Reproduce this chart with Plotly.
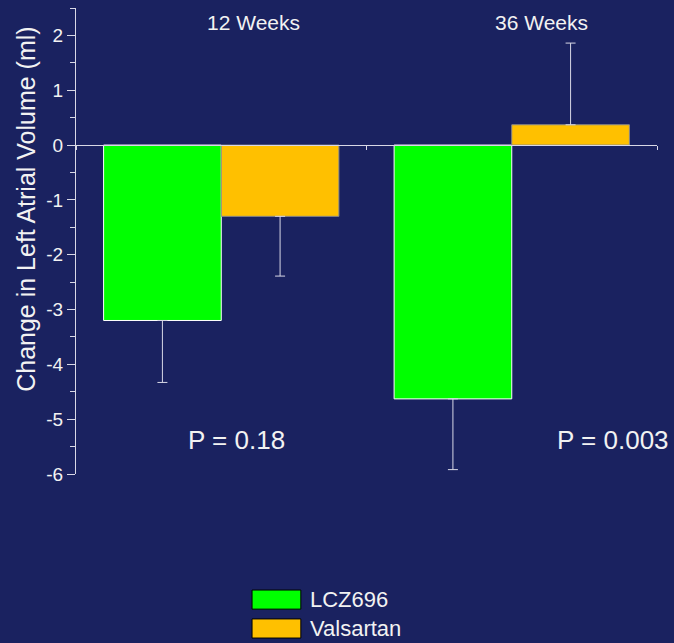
import plotly.graph_objects as go

# ---- data ----
timepoints = ["12 Weeks", "36 Weeks"]
lcz696_change = [-3.2, -4.63]
lcz696_err_minus = [1.13, 1.29]
lcz696_err_plus = [0.0, 0.0]
valsartan_change = [-1.3, 0.37]
valsartan_err_minus = [1.09, 0.0]
valsartan_err_plus = [0.0, 1.49]
p_values = ["P = 0.18", "P = 0.003"]
series_names = ["LCZ696", "Valsartan"]
y_ticks = [-6, -5, -4, -3, -2, -1, 0, 1, 2]
y_tick_labels = ["-6", "-5", "-4", "-3", "-2", "-1", "0", "1", "2"]
y_title = "Change in Left Atrial Volume (ml)"

BG = "#1a2260"
FG = "#f2f2f2"
AX = "#d8d8e6"
FONT = "Liberation Sans, Arial, sans-serif"
GREEN = "#00ff00"
ORANGE = "#ffc000"

fig = go.Figure()
fig.add_trace(go.Bar(
    x=timepoints, y=lcz696_change, name=series_names[0],
    marker=dict(color=GREEN, line=dict(color="#ffffff", width=1)),
    error_y=dict(type="data", symmetric=False, array=lcz696_err_plus,
                 arrayminus=lcz696_err_minus, color=AX, thickness=1, width=5),
    showlegend=False,
))
fig.add_trace(go.Bar(
    x=timepoints, y=valsartan_change, name=series_names[1],
    marker=dict(color=ORANGE, line=dict(color="#8a8a8a", width=1)),
    error_y=dict(type="data", symmetric=False, array=valsartan_err_plus,
                 arrayminus=valsartan_err_minus, color=AX, thickness=1, width=5),
    showlegend=False,
))

y_min, y_max = -6, 2.5
zero_pos = (0 - y_min) / (y_max - y_min)

fig.update_layout(
    width=674, height=643,
    margin=dict(l=76, r=17, t=8, b=169),
    paper_bgcolor=BG, plot_bgcolor=BG,
    barmode="group", bargap=0.19, bargroupgap=0,
    font=dict(family=FONT, color=FG),
    xaxis=dict(
        anchor="free", position=zero_pos,
        showline=True, linecolor=AX, linewidth=1,
        ticks="outside", tickson="boundaries", ticklen=4, tickcolor=AX,
        showticklabels=False, showgrid=False, zeroline=False,
        range=[-0.5, 1.5],
    ),
    yaxis=dict(
        range=[y_min, y_max], tickvals=y_ticks, ticktext=y_tick_labels,
        showline=True, linecolor=AX, linewidth=1,
        ticks="outside", ticklen=8, tickcolor=AX,
        minor=dict(dtick=0.5, ticks="outside", ticklen=5, tickcolor=AX, showgrid=False),
        showgrid=False, zeroline=False,
        tickfont=dict(size=19, color=FG, family=FONT),
    ),
)

# y-axis title (placed as rotated text to match vertical offset)
fig.add_annotation(x=-0.086, y=0.567, xref="paper", yref="paper",
                   xanchor="center", yanchor="middle", textangle=-90,
                   text=y_title, showarrow=False,
                   font=dict(size=25, color=FG, family=FONT))

# group labels and p-values
week_x = [0.305, 0.802]
p_x = [0.277, 0.924]
for i in range(2):
    fig.add_annotation(x=week_x[i], y=0.968, xref="paper", yref="paper",
                       xanchor="center", yanchor="middle",
                       text=timepoints[i], showarrow=False,
                       font=dict(size=21, color=FG, family=FONT))
    fig.add_annotation(x=p_x[i], y=0.073, xref="paper", yref="paper",
                       xanchor="center", yanchor="middle",
                       text=p_values[i], showarrow=False,
                       font=dict(size=26, color=FG, family=FONT))

# legend (drawn as swatches + text)
leg_colors = [GREEN, ORANGE]
leg_y = [(-0.249, -0.290), (-0.311, -0.352)]
for i in range(2):
    y0, y1 = leg_y[i]
    fig.add_shape(type="rect", xref="paper", yref="paper",
                  x0=0.303, x1=0.387, y0=y1, y1=y0,
                  fillcolor=leg_colors[i], line=dict(color="#000000", width=1))
    fig.add_annotation(x=0.399, y=(y0 + y1) / 2, xref="paper", yref="paper",
                       text=series_names[i], showarrow=False,
                       xanchor="left", yanchor="middle",
                       font=dict(size=22, color=FG, family=FONT))

fig.write_html("out.html",
               config={"displayModeBar": False},
               post_script="document.body.style.margin='0';document.body.style.background='%s';" % BG)
